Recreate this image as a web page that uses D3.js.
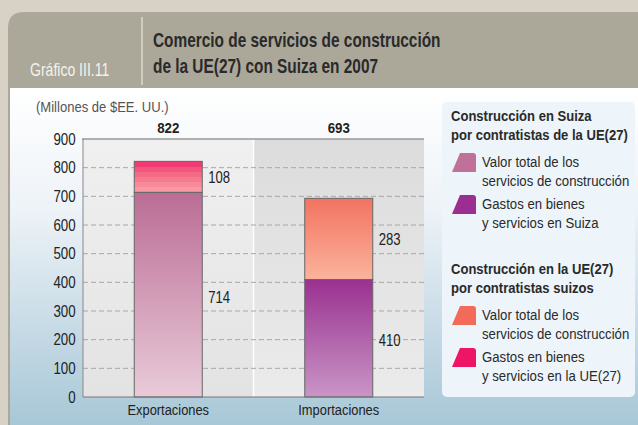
<!doctype html>
<html>
<head>
  <meta charset="utf-8">
  <title>Comercio de servicios de construcción</title>
  <style>
  body { margin: 0; background: #d8d2c6; }
  #vis { width: 638px; height: 425px; }
  text { font-family: "Liberation Sans", Arial, sans-serif; }
  </style>
</head>
<body>
  <div id="vis"></div>

  <script src="https://d3js.org/d3.v7.min.js"></script>
  <script>
  // data
  var categories = ['Exportaciones', 'Importaciones'];
  var baseValues = [714, 410];
  var topValues = [108, 283];
  var totals = [822, 693];
  var yTicks = [0, 100, 200, 300, 400, 500, 600, 700, 800, 900];

  var width = 638;
  var height = 425;

  var svg = d3.select('#vis')
    .append('svg')
    .attr('width', width)
    .attr('height', height);

  var defs = svg.append('defs');

  // no condensed font installed, so squeeze text horizontally
  function label(parent, x, y, str, size, sx, anchor, weight, fill){
    return parent.append('text')
      .attr('transform', 'translate(' + x + ',' + y + ') scale(' + sx + ',1)')
      .attr('font-size', size)
      .attr('text-anchor', anchor || 'start')
      .attr('font-weight', weight || 'normal')
      .attr('fill', fill || '#222')
      .text(str);
  }

  function vgrad(id, stops){
    var g = defs.append('linearGradient').attr('id', id)
      .attr('x1', 0).attr('y1', 0).attr('x2', 0).attr('y2', 1);
    stops.forEach(function(s){
      g.append('stop').attr('offset', s[0]).attr('stop-color', s[1]);
    });
  }
  vgrad('panelBg', [[0, '#ffffff'], [0.35, '#eef3f8'], [1, '#a6c6d6']]);
  vgrad('leftPanel', [[0, '#f0f0f0'], [1, '#e3e3e4']]);
  vgrad('rightPanel', [[0, '#dcdcdd'], [1, '#ebebeb']]);
  vgrad('expBase', [[0, '#bb6d95'], [1, '#e9cbd9']]);
  vgrad('impBase', [[0, '#9a3190'], [1, '#c995c6']]);
  vgrad('impTop', [[0, '#f27361'], [1, '#fbb39c']]);
  // stepped stripes on the small segment
  var stripes = ['#f03b73', '#f2557d', '#f46a86', '#f57b8f', '#f78b98', '#f899a3'];
  var sg = defs.append('linearGradient').attr('id', 'expTop')
    .attr('x1', 0).attr('y1', 0).attr('x2', 0).attr('y2', 1);
  stripes.forEach(function(c, i){
    sg.append('stop').attr('offset', i / stripes.length).attr('stop-color', c);
    sg.append('stop').attr('offset', (i + 1) / stripes.length).attr('stop-color', c);
  });

  // card
  svg.append('path')
    .attr('d', 'M8,' + (height + 5) + ' L8,28 Q8,12 24,12 L' + (width + 5) + ',12 L' + (width + 5) + ',' + (height + 5) + ' Z')
    .attr('fill', '#aba799');
  svg.append('path')
    .attr('d', 'M10,88 L' + (width + 5) + ',88 L' + (width + 5) + ',' + (height + 5) + ' L10,' + (height + 5) + ' Z')
    .attr('fill', 'url(#panelBg)');

  label(svg, 30, 76, 'Gráfico III.11', 18, 0.78, 'start', 'normal', '#f4f2ec');
  svg.append('line')
    .attr('x1', 142).attr('x2', 142).attr('y1', 17).attr('y2', 85)
    .attr('stroke', '#f4f2ec').attr('stroke-width', 1);
  label(svg, 153, 47, 'Comercio de servicios de construcción', 19.5, 0.79, 'start', 'bold', '#2a2a2a');
  label(svg, 153, 73, 'de la UE(27) con Suiza en 2007', 19.5, 0.79, 'start', 'bold', '#2a2a2a');

  label(svg, 36, 112, '(Millones de $EE. UU.)', 15, 0.87, 'start', 'normal', '#555');

  // scales
  var y = d3.scaleLinear().domain([0, 900]).range([397, 139]);
  var x = d3.scaleBand().domain(categories).range([83, 424]).padding(0);
  var barW = 68;

  var plot = svg.append('g');
  plot.selectAll('.panel').data(categories).enter().append('rect')
    .attr('x', function(d){ return x(d); })
    .attr('y', y(900))
    .attr('width', x.bandwidth())
    .attr('height', y(0) - y(900))
    .attr('fill', function(d, i){ return i === 0 ? 'url(#leftPanel)' : 'url(#rightPanel)'; });
  plot.append('line')
    .attr('x1', x(categories[1])).attr('x2', x(categories[1]))
    .attr('y1', y(900)).attr('y2', y(0))
    .attr('stroke', '#ffffff').attr('stroke-width', 1.5);

  // grid
  plot.selectAll('.grid').data(yTicks.filter(function(t){ return t > 0 && t < 900; }))
    .enter().append('line')
    .attr('x1', 83).attr('x2', 424)
    .attr('y1', function(d){ return y(d); })
    .attr('y2', function(d){ return y(d); })
    .attr('stroke', '#a8a8a8').attr('stroke-width', 1)
    .attr('stroke-dasharray', '5,3');

  // y axis
  var yAxis = d3.axisLeft(y).tickValues(yTicks).tickSize(0).tickPadding(9);
  var ga = svg.append('g').attr('transform', 'translate(83,0)').call(yAxis);
  ga.select('.domain').remove();
  ga.selectAll('text').attr('font-size', 16).attr('fill', '#222')
    .attr('transform', 'scale(0.83,1)')
    .style('font-family', '"Liberation Sans", Arial, sans-serif');

  // x axis
  var xAxis = d3.axisBottom(x).tickSize(0).tickPadding(7);
  var gx = svg.append('g').attr('transform', 'translate(0,397)').call(xAxis);
  gx.select('.domain').remove();
  gx.selectAll('text').attr('font-size', 15).attr('fill', '#222')
    .attr('transform', 'scale(0.86,1)')
    .style('font-family', '"Liberation Sans", Arial, sans-serif');
  // keep labels centred under the bands after the squeeze
  gx.selectAll('.tick').each(function(d){
    d3.select(this).attr('transform', 'translate(' + (x(d) + x.bandwidth() / 2) + ',0)');
  });

  // bars
  var baseFill = ['url(#expBase)', 'url(#impBase)'];
  var topFill = ['url(#expTop)', 'url(#impTop)'];
  categories.forEach(function(c, i){
    var bx = x(c) + (x.bandwidth() - barW) / 2;
    plot.append('rect')
      .attr('x', bx).attr('y', y(baseValues[i]))
      .attr('width', barW).attr('height', y(0) - y(baseValues[i]))
      .attr('fill', baseFill[i]).attr('stroke', '#666').attr('stroke-width', 1);
    plot.append('rect')
      .attr('x', bx).attr('y', y(baseValues[i] + topValues[i]))
      .attr('width', barW).attr('height', y(baseValues[i]) - y(baseValues[i] + topValues[i]))
      .attr('fill', topFill[i]).attr('stroke', '#666').attr('stroke-width', 1);

    label(svg, bx + barW + 6, y(baseValues[i] / 2) + 8, baseValues[i], 16, 0.82);
    label(svg, bx + barW + 6, y(baseValues[i] + topValues[i] / 2) + 6, topValues[i], 16, 0.82);
    label(svg, x(c) + x.bandwidth() / 2, 133, totals[i], 15.5, 0.86, 'middle', 'bold');
  });

  // frame lines
  plot.append('line')
    .attr('x1', 82).attr('x2', 424).attr('y1', y(900)).attr('y2', y(900))
    .attr('stroke', '#999').attr('stroke-width', 1.5);
  plot.append('line')
    .attr('x1', 83).attr('x2', 83).attr('y1', y(900)).attr('y2', y(0))
    .attr('stroke', '#888').attr('stroke-width', 1);
  plot.append('line')
    .attr('x1', 83).attr('x2', 424).attr('y1', y(0)).attr('y2', y(0))
    .attr('stroke', '#777').attr('stroke-width', 1);

  // legend
  var legendGroups = [
    { head: ['Construcción en Suiza', 'por contratistas de la UE(27)'], y: 121,
      items: [{ color: '#c0719a', lines: ['Valor total de los', 'servicios de construcción'] },
              { color: '#9b2f91', lines: ['Gastos en bienes', 'y servicios en Suiza'] }] },
    { head: ['Construcción en la UE(27)', 'por contratistas suizos'], y: 274,
      items: [{ color: '#f26a5a', lines: ['Valor total de los', 'servicios de construcción'] },
              { color: '#ee1566', lines: ['Gastos en bienes', 'y servicios en la UE(27)'] }] }
  ];

  var lg = svg.append('g');
  lg.append('rect')
    .attr('x', 442).attr('y', 102).attr('width', 193).attr('height', 295)
    .attr('rx', 5).attr('fill', '#edf5fa');

  legendGroups.forEach(function(g){
    g.head.forEach(function(h, j){
      label(lg, 451, g.y + j * 19, h, 15, 0.87, 'start', 'bold', '#2a2a2a');
    });
    g.items.forEach(function(it, k){
      var top = g.y + 32 + k * 42;
      lg.append('path')
        .attr('d', 'M452,' + (top + 19) + ' L460,' + top + ' L473,' + top +
          ' Q476,' + top + ' 476,' + (top + 3) + ' L476,' + (top + 19) + ' Z')
        .attr('fill', it.color);
      it.lines.forEach(function(l, j){
        label(lg, 482, top + 14 + j * 19, l, 15, 0.88, 'start', 'normal', '#2a2a2a');
      });
    });
  });
  </script>
</body>
</html>
